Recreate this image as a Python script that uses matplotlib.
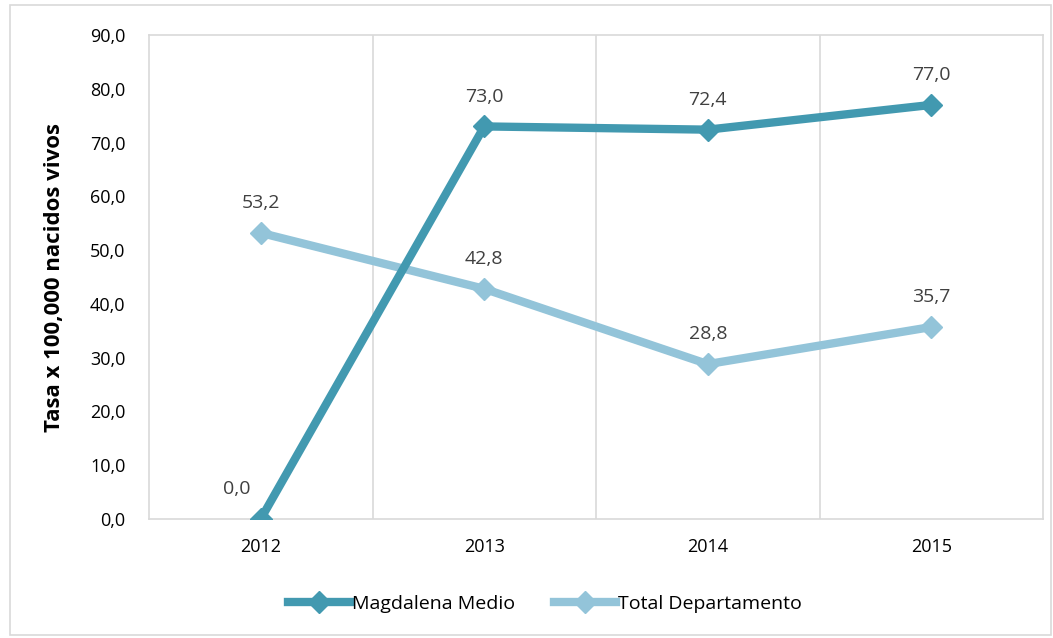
import matplotlib.pyplot as plt
from matplotlib.lines import Line2D
from matplotlib.patches import Rectangle

years = ['2012', '2013', '2014', '2015']
magdalena = [0.0, 73.0, 72.4, 77.0]
total_dep = [53.2, 42.8, 28.8, 35.7]

dark = '#4299B0'
light = '#93C4D9'

plt.rcParams['font.family'] = ['Open Sans', 'DejaVu Sans']

fig = plt.figure(figsize=(10.53, 6.38), dpi=100)
ax = fig.add_axes([149 / 1053, 1 - 519 / 638, (1043 - 149) / 1053, (519 - 35) / 638])

# outer chart border
fig.patches.append(Rectangle((10 / 1053, 3 / 638), 1 - 12 / 1053, 1 - 8 / 638,
                             transform=fig.transFigure, fill=False,
                             edgecolor='#d9d9d9', linewidth=1.2))

x = list(range(len(years)))
ax.plot(x, magdalena, color=dark, lw=6, marker='D', ms=11, solid_capstyle='round', zorder=3)
ax.plot(x, total_dep, color=light, lw=6, marker='D', ms=11, solid_capstyle='round', zorder=2)

for series in (magdalena, total_dep):
    for xi, v in zip(x, series):
        dx = -17 if v == 0 else 0
        ax.annotate(f'{v:.1f}'.replace('.', ','), (xi, v), xytext=(dx, 15),
                    textcoords='offset points', ha='center', va='bottom',
                    fontsize=14, color='#404040')

ax.set_xlim(-0.5, 3.5)
ax.set_ylim(0, 90)
ax.set_yticks(range(0, 91, 10))
ax.set_yticklabels([f'{v:.1f}'.replace('.', ',') for v in range(0, 91, 10)])
ax.set_xticks(x)
ax.set_xticklabels(years)
ax.set_xticks([0.5, 1.5, 2.5], minor=True)
ax.grid(axis='x', which='minor', color='#d9d9d9', lw=1.2)
ax.tick_params(axis='both', which='both', length=0, labelsize=13, colors='black')
ax.tick_params(axis='x', pad=14)
ax.tick_params(axis='y', pad=17)
for s in ax.spines.values():
    s.set_color('#d9d9d9')
    s.set_linewidth(1.2)

ax.set_ylabel('Tasa x 100,000 nacidos vivos', fontsize=16, fontweight='bold', labelpad=18)

handles = [Line2D([], [], color=dark, lw=6, marker='D', ms=11),
           Line2D([], [], color=light, lw=6, marker='D', ms=11)]
fig.legend(handles, ['Magdalena Medio', 'Total Departamento'], loc='center',
           bbox_to_anchor=(545 / 1053, 1 - 604 / 638), ncol=2, frameon=False,
           fontsize=14, handlelength=3.2, handletextpad=0.1, columnspacing=2.0)

fig.savefig('out.png', dpi=100)
